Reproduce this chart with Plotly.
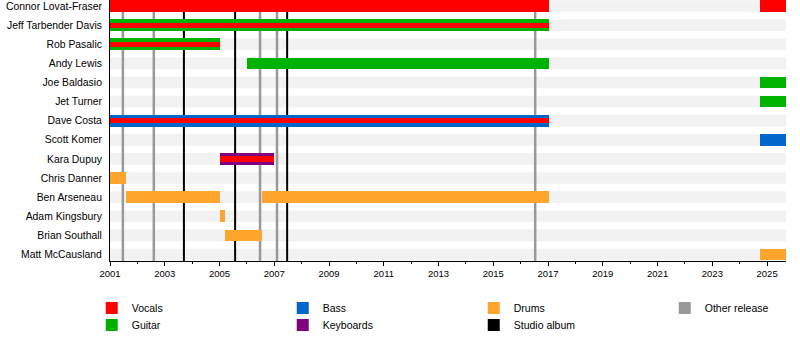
import plotly.graph_objects as go

# ---------------- data ----------------
members = ["Connor Lovat-Fraser", "Jeff Tarbender Davis", "Rob Pasalic", "Andy Lewis",
           "Joe Baldasio", "Jet Turner", "Dave Costa", "Scott Komer", "Kara Dupuy",
           "Chris Danner", "Ben Arseneau", "Adam Kingsbury", "Brian Southall",
           "Matt McCausland"]

timeline_start = 2001.0
timeline_end = 2025.69

# main role spans: (member, role, start, end)
span_member = ["Connor Lovat-Fraser", "Connor Lovat-Fraser", "Jeff Tarbender Davis", "Rob Pasalic",
               "Andy Lewis", "Joe Baldasio", "Jet Turner", "Dave Costa", "Scott Komer",
               "Kara Dupuy", "Chris Danner", "Ben Arseneau", "Ben Arseneau",
               "Adam Kingsbury", "Brian Southall", "Matt McCausland"]
span_role = ["Vocals", "Vocals", "Guitar", "Guitar", "Guitar", "Guitar", "Guitar", "Bass", "Bass",
             "Keyboards", "Drums", "Drums", "Drums", "Drums", "Drums", "Drums"]
span_start = [2001.0, 2024.74, 2001.0, 2001.0, 2006.0, 2024.74, 2024.74, 2001.0, 2024.74,
              2005.0, 2001.0, 2001.58, 2006.55, 2005.0, 2005.2, 2024.74]
span_end = [2017.02, 2025.69, 2017.02, 2005.0, 2017.02, 2025.69, 2025.69, 2017.02, 2025.69,
            2007.0, 2001.58, 2005.0, 2017.02, 2005.2, 2006.55, 2025.69]

# secondary (vocals) stripes
stripe_member = ["Jeff Tarbender Davis", "Rob Pasalic", "Dave Costa", "Kara Dupuy"]
stripe_start = [2001.0, 2001.0, 2001.0, 2005.0]
stripe_end = [2017.02, 2005.0, 2017.02, 2007.0]

# releases
studio_albums = [2003.70, 2005.57, 2007.47]
other_releases = [2001.47, 2002.60, 2006.48, 2007.10, 2016.53]

roles = ["Vocals", "Guitar", "Bass", "Keyboards", "Drums"]
role_colors = {"Vocals": "#ff0000", "Guitar": "#00b200", "Bass": "#0066cc",
               "Keyboards": "#7f007f", "Drums": "#ffa52e"}
studio_color = "#000000"
other_color = "#999999"
band_color = "#f2f2f2"

# legend layout: row 1 / row 2
legend_row1 = ["Vocals", "Bass", "Drums", "Other release"]
legend_row2 = ["Guitar", "Keyboards", "Studio album"]

# ---------------- figure ----------------
row_of = {m: i for i, m in enumerate(members)}
BAR_W = 0.61
STRIPE_W = 0.27
Y_RANGE = [13.34, -0.314]
FONT = "Liberation Sans, Arial, sans-serif"

def legend_for(name):
    if name in legend_row1:
        return "legend", legend_row1.index(name)
    return "legend2", legend_row2.index(name)

fig = go.Figure()

# instrument bars (vocals last so stripes sit on top)
draw_order = ["Guitar", "Bass", "Keyboards", "Drums", "Vocals"]
for role in draw_order:
    ys, bases, lens, widths = [], [], [], []
    for m, r, s, e in zip(span_member, span_role, span_start, span_end):
        if r == role:
            ys.append(row_of[m]); bases.append(s); lens.append(e - s); widths.append(BAR_W)
    if role == "Vocals":
        for m, s, e in zip(stripe_member, stripe_start, stripe_end):
            ys.append(row_of[m]); bases.append(s); lens.append(e - s); widths.append(STRIPE_W)
    lg, rank = legend_for(role)
    fig.add_trace(go.Bar(
        y=ys, x=lens, base=bases, width=widths, orientation="h",
        marker=dict(color=role_colors[role], line=dict(width=0)),
        name=role, legend=lg, legendrank=rank, hoverinfo="skip",
    ))

# legend entries for release lines
for name, col in [("Other release", other_color), ("Studio album", studio_color)]:
    lg, rank = legend_for(name)
    fig.add_trace(go.Bar(
        y=[None], x=[None], orientation="h", marker=dict(color=col, line=dict(width=0)),
        name=name, legend=lg, legendrank=rank, legendwidth=70, hoverinfo="skip",
    ))

shapes = []
# background bands per member row
for i in range(len(members)):
    shapes.append(dict(type="rect", xref="x", yref="y", x0=timeline_start, x1=timeline_end,
                       y0=i - BAR_W / 2, y1=i + BAR_W / 2, fillcolor=band_color,
                       line=dict(width=0), layer="below"))
for d in other_releases:
    shapes.append(dict(type="line", xref="x", yref="y", x0=d, x1=d, y0=Y_RANGE[0], y1=Y_RANGE[1],
                       line=dict(color=other_color, width=2.5), layer="below"))
for d in studio_albums:
    shapes.append(dict(type="line", xref="x", yref="y", x0=d, x1=d, y0=Y_RANGE[0], y1=Y_RANGE[1],
                       line=dict(color=studio_color, width=2), layer="below"))

LEG_X = -0.027
fig.update_layout(
    width=800, height=340,
    margin=dict(l=110, r=14, t=0, b=79, autoexpand=False),
    paper_bgcolor="white", plot_bgcolor="white",
    barmode="overlay", bargap=0,
    shapes=shapes,
    font=dict(family=FONT, size=10.5, color="#000000"),
    showlegend=True,
    legend=dict(orientation="h", x=LEG_X, xanchor="left", y=-0.18, yanchor="middle",
                entrywidth=146, entrywidthmode="pixels", font=dict(size=10.5),
                bgcolor="rgba(0,0,0,0)", borderwidth=0, traceorder="normal"),
    legend2=dict(orientation="h", x=LEG_X, xanchor="left", y=-0.245, yanchor="middle",
                 entrywidth=146, entrywidthmode="pixels", font=dict(size=10.5),
                 bgcolor="rgba(0,0,0,0)", borderwidth=0, traceorder="normal"),
)

fig.update_xaxes(
    range=[timeline_start, timeline_end], tick0=2001, dtick=2, tickformat="d",
    showgrid=False, zeroline=False, showline=True, linecolor="black", linewidth=1,
    ticks="outside", ticklen=4, tickcolor="black", tickwidth=1,
    minor=dict(dtick=1, ticks="outside", ticklen=2, tickcolor="black", showgrid=False),
    tickfont=dict(size=9.5), fixedrange=True, automargin=False,
)
fig.update_yaxes(
    range=Y_RANGE, tickmode="array", tickvals=list(range(len(members))),
    ticktext=members, showgrid=False, zeroline=False, showline=True, linecolor="black",
    linewidth=1, ticks="", ticklabelstandoff=5, tickfont=dict(size=10.4), fixedrange=True,
    automargin=False,
)

fig.write_html("out.html")
